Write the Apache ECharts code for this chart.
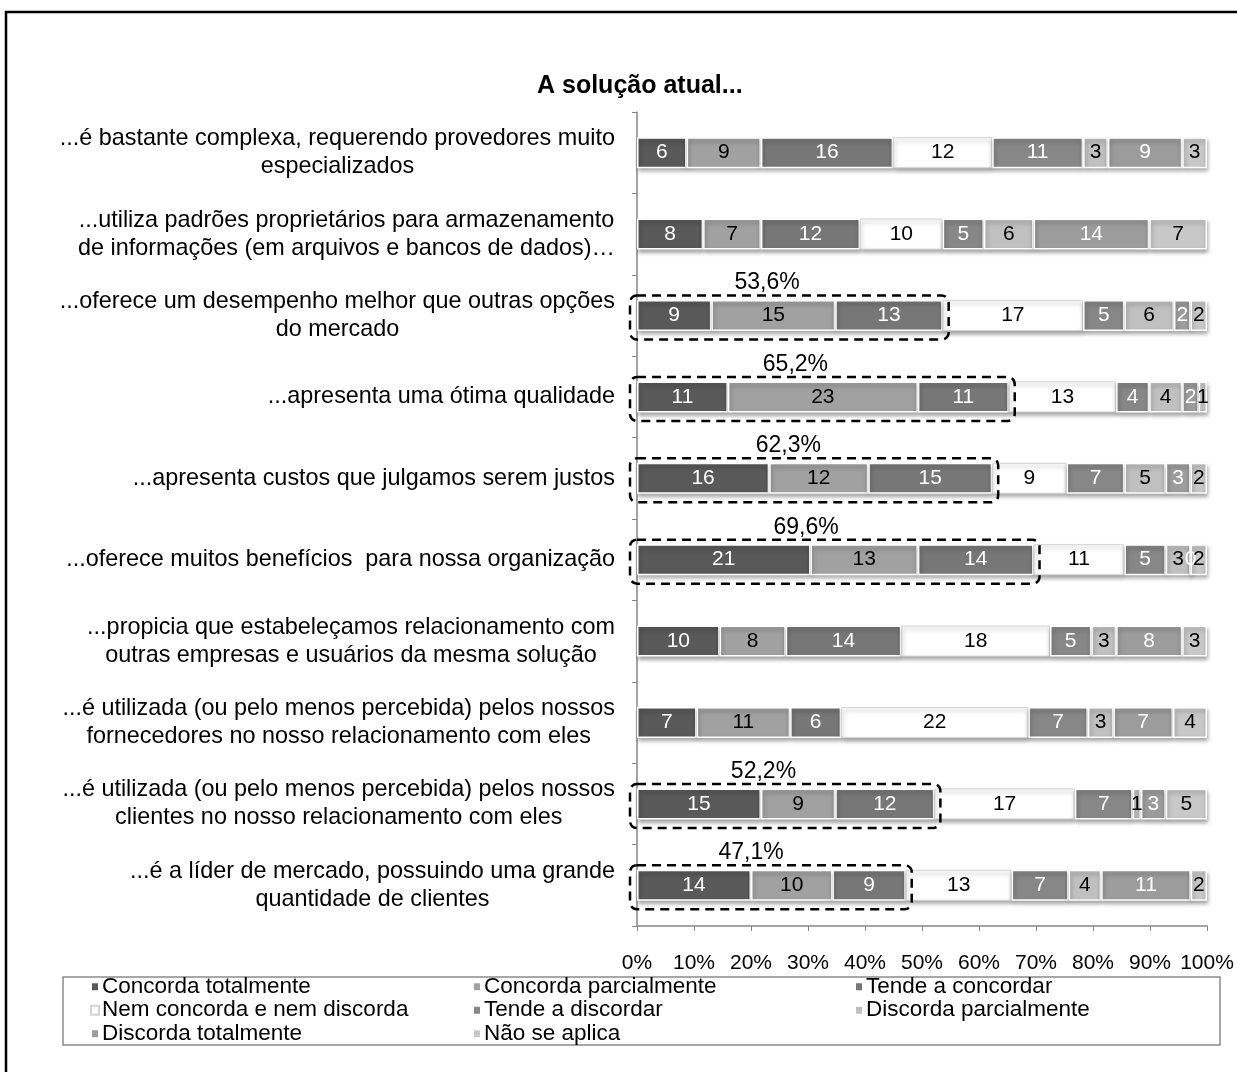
<!DOCTYPE html>
<html>
<head>
<meta charset="utf-8">
<script src="https://cdn.jsdelivr.net/npm/echarts@6/dist/echarts.min.js"></script>
<style>
  body { margin: 0; background: #fff; }
  #main { width: 1237px; height: 1072px; }
</style>
</head>
<body>
<div id="main"></div>
<script>
var categories = [
  '...é bastante complexa, requerendo provedores muito\nespecializados',
  '...utiliza padrões proprietários para armazenamento\nde informações (em arquivos e bancos de dados)…',
  '...oferece um desempenho melhor que outras opções\ndo mercado',
  '...apresenta uma ótima qualidade',
  '...apresenta custos que julgamos serem justos',
  '...oferece muitos benefícios  para nossa organização',
  '...propicia que estabeleçamos relacionamento com\noutras empresas e usuários da mesma solução',
  '...é utilizada (ou pelo menos percebida) pelos nossos\nfornecedores no nosso relacionamento com eles',
  '...é utilizada (ou pelo menos percebida) pelos nossos\nclientes no nosso relacionamento com eles',
  '...é a líder de mercado, possuindo uma grande\nquantidade de clientes'
];
var seriesNames = ['Concorda totalmente', 'Concorda parcialmente', 'Tende a concordar',
  'Nem concorda e nem discorda', 'Tende a discordar', 'Discorda parcialmente',
  'Discorda totalmente', 'Não se aplica'];

var concordaTotal   = [6, 8, 9, 11, 16, 21, 10, 7, 15, 14];
var concordaParc    = [9, 7, 15, 23, 12, 13, 8, 11, 9, 10];
var tendeConcordar  = [16, 12, 13, 11, 15, 14, 14, 6, 12, 9];
var nemNem          = [12, 10, 17, 13, 9, 11, 18, 22, 17, 13];
var tendeDiscordar  = [11, 5, 5, 4, 7, 5, 5, 7, 7, 7];
var discordaParc    = [3, 6, 6, 4, 5, 3, 3, 3, 1, 4];
var discordaTotal   = [9, 14, 2, 2, 3, 0, 8, 7, 3, 11];
var naoSeAplica     = [3, 7, 2, 1, 2, 2, 3, 4, 5, 2];

// rows with the dashed box around the three "concorda" groups
var boxedRows = [2, 3, 4, 5, 8, 9];

var xTicks = [0, 10, 20, 30, 40, 50, 60, 70, 80, 90, 100];

var allSeries = [concordaTotal, concordaParc, tendeConcordar, nemNem,
  tendeDiscordar, discordaParc, discordaTotal, naoSeAplica];
var colors = ['#595959', '#a1a1a1', '#777777', '#ffffff', '#878787', '#c0c0c0', '#9c9c9c', '#c8c8c8'];
var labelColors = ['#fff', '#000', '#fff', '#000', '#fff', '#000', '#fff', '#000'];

var FONT = '"Liberation Sans", Arial, sans-serif';

var totals = categories.map(function (c, i) {
  var s = 0;
  allSeries.forEach(function (arr) { s += arr[i]; });
  return s;
});

var myChart = echarts.init(document.getElementById('main'));

var series = allSeries.map(function (arr, k) {
  return {
    name: seriesNames[k],
    type: 'bar',
    stack: 'total',
    barWidth: 31,
    data: arr.map(function (v, i) {
      return { value: v / totals[i] * 100, raw: v };
    }),
    itemStyle: {
      color: colors[k],
      borderColor: k == 3 ? '#d4d4d4' : '#ffffff',
      borderWidth: k == 3 ? 1 : 1.5,
      shadowColor: 'rgba(0,0,0,0.35)',
      shadowBlur: 4,
      shadowOffsetX: 1,
      shadowOffsetY: 3
    },
    label: {
      show: true,
      position: 'inside',
      color: labelColors[k],
      fontFamily: FONT,
      fontSize: 21,
      formatter: function (p) { return p.data.raw; }
    }
  };
});

var boxData = boxedRows.map(function (r) {
  var s = concordaTotal[r] + concordaParc[r] + tendeConcordar[r];
  var pct = s / totals[r] * 100;
  return [pct, r, pct.toFixed(1).replace('.', ',') + '%'];
});

series.push({
  type: 'custom',
  name: 'boxes',
  clip: false,
  z: 10,
  encode: { x: 0, y: 1 },
  data: boxData,
  renderItem: function (params, api) {
    var p0 = api.coord([0, api.value(1)]);
    var p1 = api.coord([api.value(0), api.value(1)]);
    var x = p0[0] - 7;
    var w = p1[0] - p0[0] + 13;
    var y = p0[1] - 20;
    return {
      type: 'group',
      children: [{
        type: 'rect',
        shape: { x: x, y: y, width: w, height: 44, r: 7 },
        style: { fill: 'none', stroke: '#000', lineWidth: 2.5, lineDash: [9, 6] }
      }, {
        type: 'text',
        style: {
          x: x + w * 0.43,
          y: y - 1,
          text: boxData[params.dataIndex][2],
          align: 'center',
          verticalAlign: 'bottom',
          fontFamily: FONT,
          fontSize: 23,
          fill: '#000'
        }
      }]
    };
  }
});

var option = {
  animation: false,
  title: {
    text: 'A solução atual...',
    left: 532,
    top: 69,
    textStyle: { fontFamily: FONT, fontSize: 25, fontWeight: 'bold', color: '#000' }
  },
  legend: {
    data: seriesNames,
    left: 90,
    top: 975,
    width: 1160,
    itemGap: 0,
    itemWidth: 8,
    itemHeight: 9,
    icon: 'rect',
    selectedMode: false,
    padding: 0,
    textStyle: { fontFamily: FONT, fontSize: 22.5, color: '#000', width: 370, lineHeight: 23.5, padding: [0, 0, 0, -2] }
  },
  grid: { left: 637, right: 30, top: 112, bottom: 146 },
  xAxis: {
    type: 'value',
    min: 0,
    max: 100,
    interval: 10,
    splitLine: { show: false },
    axisLine: { show: true, lineStyle: { color: '#868686', width: 1.5 } },
    axisTick: { show: true, length: 5, lineStyle: { color: '#868686' } },
    axisLabel: {
      margin: 27,
      fontFamily: FONT,
      fontSize: 21,
      color: '#000',
      formatter: function (v) { return xTicks.indexOf(v) >= 0 ? v + '%' : ''; }
    }
  },
  yAxis: {
    type: 'category',
    inverse: true,
    data: categories,
    axisLine: { show: true, lineStyle: { color: '#868686', width: 1.5 } },
    axisTick: { show: true, length: 5, lineStyle: { color: '#868686' } },
    axisLabel: {
      margin: 22,
      fontFamily: FONT,
      formatter: function (v) {
        return v.split('\n').map(function (l) { return '{c|' + l + '}'; }).join('\n');
      },
      rich: {
        c: { align: 'center', fontFamily: FONT, fontSize: 23.4, lineHeight: 28, color: '#000' }
      }
    }
  },
  graphic: [{
    type: 'rect',
    shape: { x: 6, y: 12, width: 1300, height: 1200 },
    style: { fill: 'none', stroke: '#000', lineWidth: 2.5 },
    silent: true
  }, {
    type: 'rect',
    shape: { x: 63, y: 977, width: 1157, height: 68 },
    style: { fill: 'none', stroke: '#8a8a8a', lineWidth: 1.5 },
    silent: true
  }],
  series: series
};

myChart.setOption(option);
</script>
</body>
</html>
